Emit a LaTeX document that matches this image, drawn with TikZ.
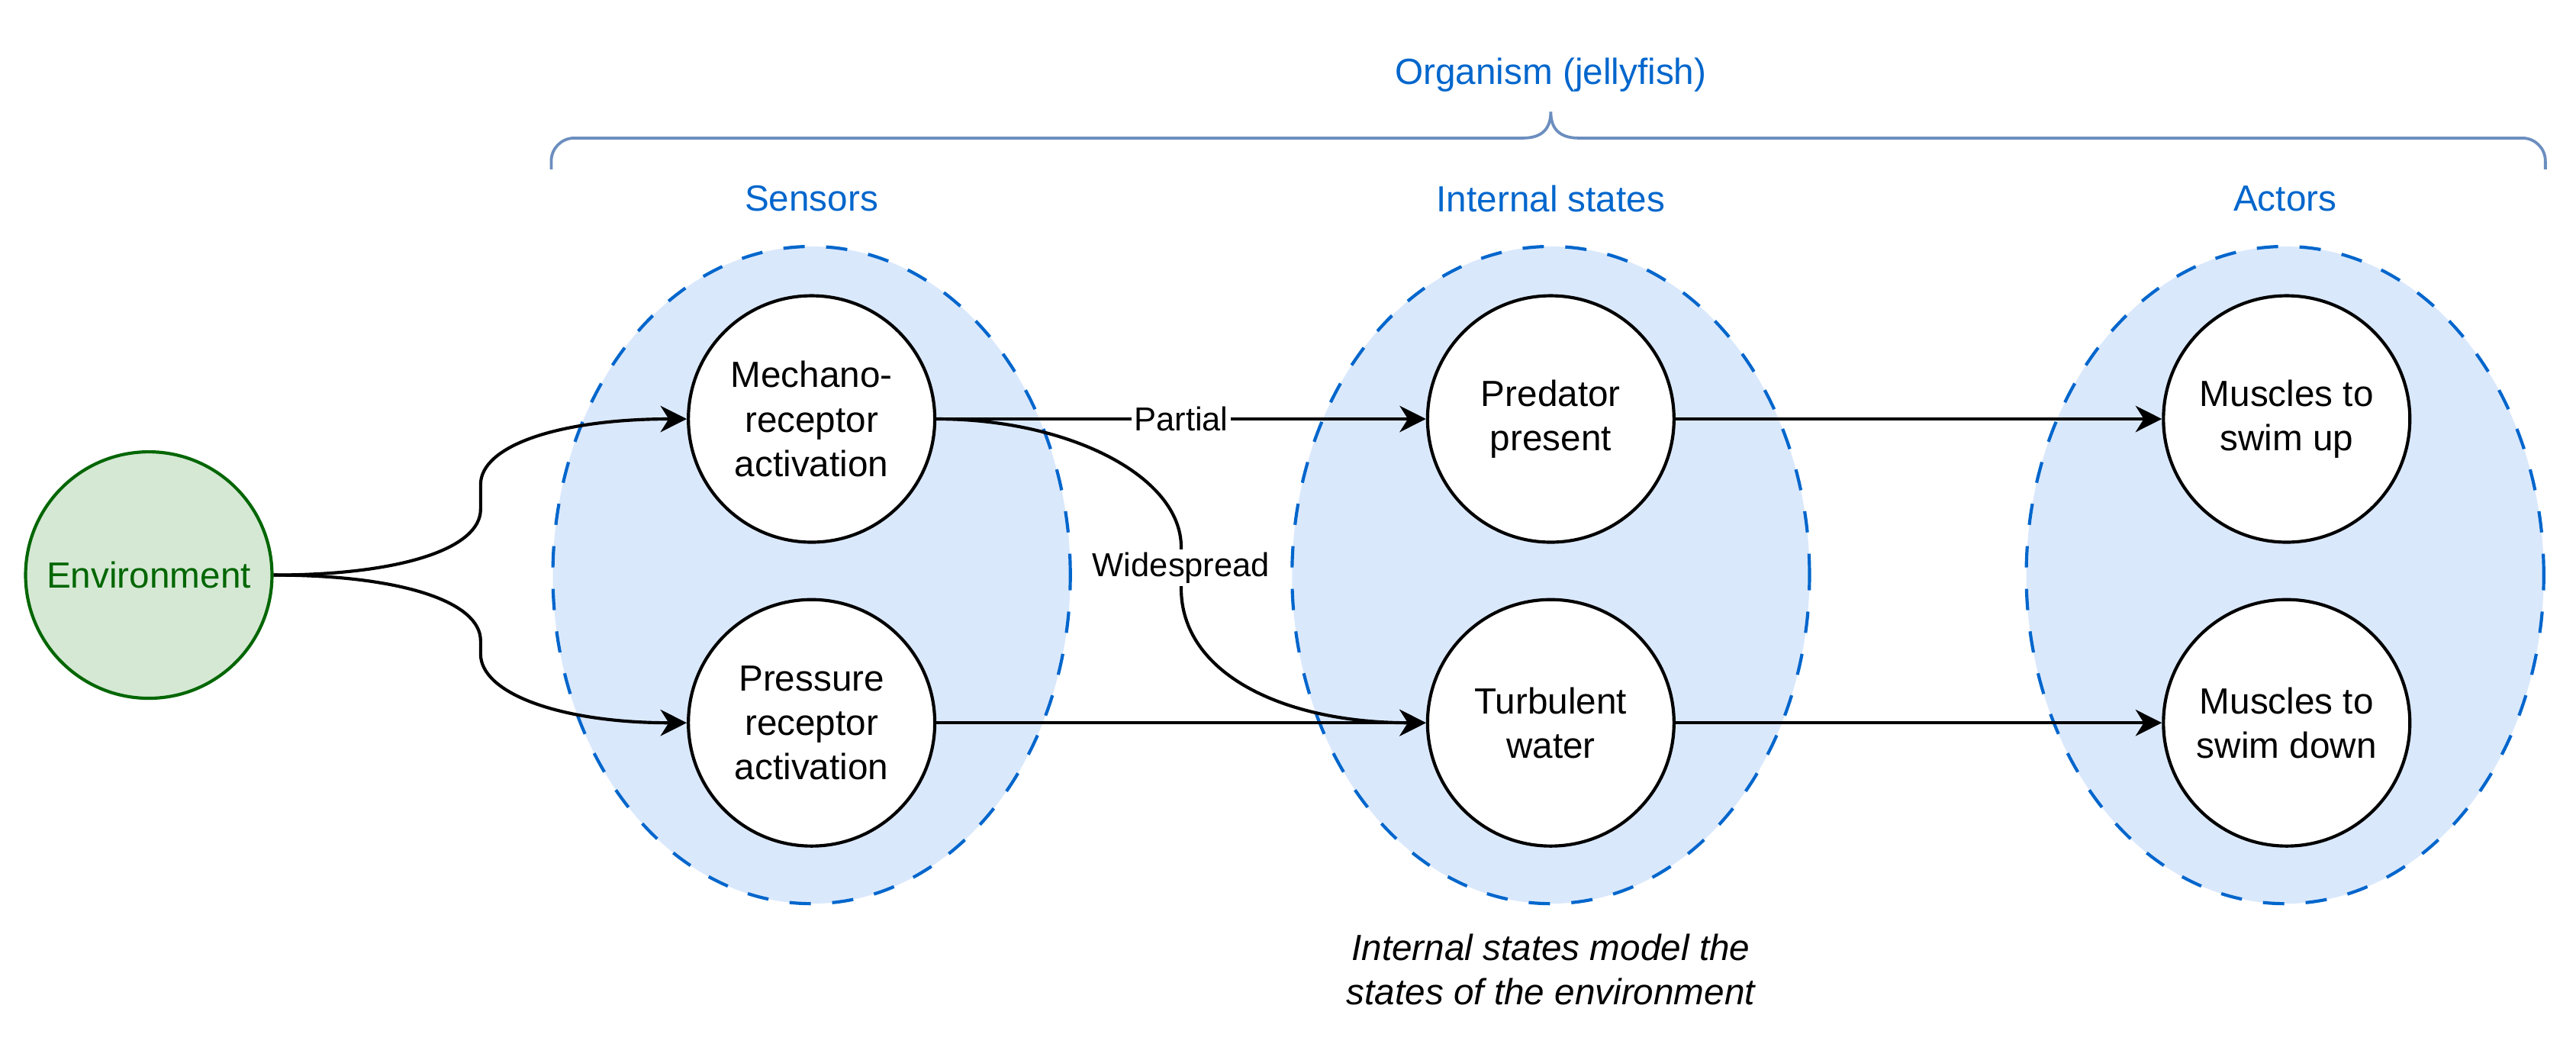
\documentclass[tikz,border=0pt]{standalone}
\usepackage{fontspec}
\setmainfont{Liberation Sans}
\usepackage{tikz}
\usetikzlibrary{positioning,arrows.meta,shapes,calc}

\definecolor{groupfill}{HTML}{DAE8FC}
\definecolor{groupline}{HTML}{0066CC}
\definecolor{bracecol}{HTML}{6C8EBF}
\definecolor{envfill}{HTML}{D5E8D4}
\definecolor{envline}{HTML}{006600}
\newcommand{\diagsize}{\fontsize{12.6pt}{15.4pt}\selectfont}
\newcommand{\edgesize}{\fontsize{11.5pt}{14pt}\selectfont}

\begin{document}
\begin{tikzpicture}[
    state/.style={circle,draw,fill=white,minimum size=3cm,inner sep=0pt,align=center,line width=1.1pt,font=\diagsize},
    group/.style={ellipse,draw=groupline,fill=groupfill,dash pattern=on 0.26cm off 0.26cm,line width=1.1pt,minimum width=6.3cm,minimum height=8cm,inner sep=0pt},
    grouplabel/.style={text=groupline,font=\diagsize},
    arrow/.style={-{Stealth[length=0.32cm,width=0.32cm,inset=0.1cm]},line width=1.1pt},
    edgelabel/.style={fill=white,inner sep=1pt,font=\edgesize},
    brace/.style={draw=bracecol,line width=1pt}
]
    \useasboundingbox (0,0) rectangle (31.36,-12.74);

    % Groups
    \node[group] (sensors) at (9.88,-7) {};
    \node[group,right=2.66cm of sensors] (internal) {};
    \node[group,right=2.6cm of internal] (actors) {};
    \node[grouplabel] (senslbl) at ([yshift=0.56cm]sensors.north) {Sensors};
    \node[grouplabel] (intlbl) at ([yshift=0.56cm]internal.north) {Internal states};
    \node[grouplabel] (actlbl) at ([yshift=0.56cm]actors.north) {Actors};

    % Organism brace
    \coordinate (bl) at ($(sensors.west |- sensors.north)+(0,0.92)$);
    \coordinate (br) at ($(actors.east |- actors.north)+(0,0.92)$);
    \coordinate (bt) at ($(internal.north)+(0,1.62)$);
    \draw[brace] (bl) -- ++(0,0.1) arc[start angle=180,end angle=90,radius=0.28]
        -- ($(bt)+(-0.34,-0.32)$) .. controls +(0.24,0) and +(0,-0.2) .. (bt)
        .. controls +(0,-0.2) and +(-0.24,0) .. ($(bt)+(0.34,-0.32)$)
        -- ($(br)+(-0.28,0.38)$) arc[start angle=90,end angle=0,radius=0.28] -- (br);
    \node[grouplabel] (organism) at ([yshift=2.07cm]internal.north) {Organism (jellyfish)};

    % States
    \node[state,draw=envline,fill=envfill,text=envline,left=3.38cm of sensors] (env) {Environment};
    \node[state] (mech) at ([yshift=1.9cm]sensors.center) {Mechano-\\receptor\\activation};
    \node[state,below=0.66cm of mech] (press) {Pressure\\receptor\\activation};
    \node[state,right=5.96cm of mech] (pred) {Predator\\present};
    \node[state,right=5.96cm of press] (turb) {Turbulent\\water};
    \node[state,right=5.92cm of pred] (up) {Muscles to\\swim up};
    \node[state,right=5.92cm of turb] (down) {Muscles to\\swim down};

    \node[font=\diagsize\itshape,align=center] (note) at ([yshift=-0.78cm]internal.south) {Internal states model the\\states of the environment};

    % Arrows
    \draw[arrow] (env.east) .. controls +(1.54,0) and +(0,-0.48) .. ++(2.52,0.8) -- ++(0,0.3)
        .. controls +(0,0.48) and +(-1.54,0) .. (mech.west);
    \draw[arrow] (env.east) .. controls +(1.54,0) and +(0,0.48) .. ++(2.52,-0.8) -- ++(0,-0.16)
        .. controls +(0,-0.48) and +(-1.54,0) .. (press.west);
    \draw[arrow] (mech) -- node[edgelabel] {Partial} (pred);
    \draw[arrow] (mech.east) .. controls +(1.62,0) and +(0,0.86) .. ++(2.98,-1.56)
        -- node[edgelabel] {Widespread} ++(0,-0.5)
        .. controls +(0,-1.04) and +(-1.74,0) .. (turb.west);
    \draw[arrow] (press) -- (turb);
    \draw[arrow] (pred) -- (up);
    \draw[arrow] (turb) -- (down);
\end{tikzpicture}
\end{document}
